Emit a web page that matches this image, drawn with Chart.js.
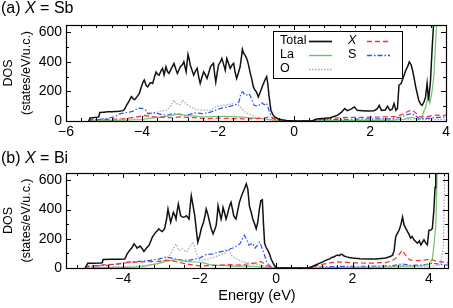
<!DOCTYPE html>
<html><head><meta charset="utf-8">
<script src="https://cdn.jsdelivr.net/npm/chart.js@4"></script>
<style>
html,body{margin:0;padding:0;background:#fff;}
#wrap{position:relative;width:453px;height:308px;overflow:hidden;font-family:"Liberation Sans",Arial,sans-serif;}
canvas{position:absolute;left:0;}
.ttl{position:absolute;left:1px;font-size:16px;line-height:18px;color:#000;white-space:nowrap;z-index:2;}
</style></head><body>
<div id="wrap">
<canvas id="ca" width="453" height="150" style="top:0"></canvas>
<canvas id="cb" width="453" height="158" style="top:150px"></canvas>
<div class="ttl" style="top:-1px">(a) <i>X</i> = Sb</div>
<div class="ttl" style="top:149px">(b) <i>X</i> = Bi</div>
</div>
<script>
// ---------- data: [energy (eV), DOS (states/eV/u.c.)] ----------
const seriesNames = ['Total', 'X', 'La', 'S', 'O'];
const xTicksA = [-6, -4, -2, 0, 2, 4];
const xTicksB = [-4, -2, 0, 2, 4];
const yTicks = [0, 200, 400, 600];

// (a) X = Sb
const aTotal = [[-5.40,0],[-5.37,20],[-5.30,22],[-5.20,25],[-5.14,28],[-5.11,58],[-5.00,60],[-4.90,62],[-4.80,62],[-4.70,64],[-4.60,66],[-4.50,70],[-4.46,80],[-4.40,110],[-4.33,140],[-4.28,165],[-4.23,150],[-4.19,145],[-4.13,165],[-4.07,186],[-4.02,230],[-3.97,265],[-3.94,278],[-3.89,240],[-3.85,231],[-3.78,260],[-3.72,254],[-3.67,300],[-3.63,332],[-3.59,315],[-3.55,310],[-3.50,340],[-3.46,356],[-3.42,312],[-3.37,367],[-3.33,335],[-3.29,322],[-3.22,360],[-3.16,390],[-3.11,350],[-3.07,322],[-3.03,345],[-2.99,367],[-2.94,380],[-2.90,401],[-2.84,333],[-2.79,451],[-2.76,420],[-2.73,378],[-2.68,340],[-2.64,310],[-2.60,335],[-2.55,356],[-2.51,300],[-2.47,254],[-2.42,300],[-2.38,333],[-2.33,310],[-2.29,288],[-2.24,330],[-2.20,367],[-2.16,380],[-2.12,390],[-2.09,320],[-2.06,264],[-2.02,330],[-1.99,378],[-1.94,400],[-1.90,424],[-1.85,380],[-1.81,344],[-1.77,424],[-1.73,395],[-1.68,356],[-1.63,380],[-1.59,390],[-1.55,330],[-1.51,288],[-1.46,330],[-1.42,367],[-1.39,420],[-1.36,485],[-1.33,460],[-1.29,446],[-1.26,430],[-1.23,412],[-1.19,370],[-1.16,333],[-1.11,280],[-1.07,231],[-1.03,210],[-0.99,197],[-0.94,163],[-0.90,190],[-0.86,216],[-0.81,250],[-0.77,276],[-0.72,300],[-0.69,250],[-0.66,173],[-0.61,73],[-0.56,45],[-0.51,27],[-0.42,15],[-0.33,8],[-0.20,4],[-0.05,1],[0.00,0],[0.48,0],[0.55,10],[0.65,15],[0.80,18],[0.95,22],[1.05,30],[1.15,40],[1.25,60],[1.33,84],[1.40,70],[1.50,80],[1.59,95],[1.66,72],[1.80,70],[1.95,68],[2.10,70],[2.18,80],[2.24,106],[2.30,72],[2.40,75],[2.46,100],[2.52,72],[2.58,80],[2.63,118],[2.68,72],[2.72,85],[2.76,242],[2.82,255],[2.88,300],[2.94,344],[2.99,370],[3.03,400],[3.08,380],[3.12,340],[3.16,288],[3.20,230],[3.24,186],[3.28,140],[3.33,115],[3.37,106],[3.42,130],[3.46,163],[3.50,254],[3.54,140],[3.59,276],[3.63,480],[3.68,700],[3.75,900],[4.00,900]];
const aX = [[-5.40,0],[-5.37,8],[-5.10,10],[-4.80,12],[-4.50,15],[-4.30,22],[-4.10,30],[-3.95,38],[-3.80,30],[-3.60,27],[-3.40,24],[-3.20,22],[-3.00,28],[-2.80,25],[-2.60,22],[-2.40,18],[-2.20,16],[-2.00,20],[-1.80,18],[-1.60,16],[-1.40,15],[-1.20,14],[-1.00,16],[-0.80,20],[-0.65,28],[-0.55,18],[-0.40,8],[-0.20,3],[0.00,0],[0.48,0],[0.60,8],[0.90,15],[1.20,22],[1.50,25],[1.80,24],[2.10,26],[2.40,28],[2.70,30],[2.85,45],[3.00,65],[3.10,75],[3.20,55],[3.30,30],[3.45,28],[3.60,35],[3.80,40],[4.00,38]];
const aLa = [[-5.40,0],[-5.00,3],[-4.50,5],[-4.00,10],[-3.80,18],[-3.60,25],[-3.40,30],[-3.20,40],[-3.00,48],[-2.90,40],[-2.70,35],[-2.50,30],[-2.30,28],[-2.10,30],[-1.90,32],[-1.70,30],[-1.50,28],[-1.30,25],[-1.10,20],[-0.90,16],[-0.70,12],[-0.50,6],[-0.30,2],[0.00,0],[0.50,0],[1.00,2],[2.00,4],[2.60,6],[2.90,12],[3.00,20],[3.10,25],[3.20,15],[3.30,10],[3.37,30],[3.42,70],[3.47,100],[3.52,160],[3.57,120],[3.63,200],[3.68,310],[3.72,520],[3.76,700],[3.80,900],[4.00,900]];
const aS = [[-5.40,0],[-5.37,8],[-5.10,12],[-4.90,18],[-4.70,30],[-4.60,48],[-4.45,55],[-4.30,62],[-4.20,70],[-4.10,88],[-4.00,85],[-3.90,73],[-3.85,50],[-3.70,57],[-3.50,45],[-3.35,38],[-3.20,50],[-3.00,45],[-2.90,38],[-2.80,42],[-2.60,55],[-2.40,50],[-2.20,60],[-2.00,80],[-1.90,88],[-1.75,95],[-1.60,106],[-1.50,115],[-1.45,129],[-1.40,185],[-1.35,197],[-1.30,180],[-1.25,174],[-1.20,186],[-1.15,170],[-1.05,106],[-0.95,100],[-0.85,124],[-0.78,110],[-0.72,120],[-0.66,73],[-0.60,30],[-0.50,10],[-0.30,3],[0.00,0],[0.50,0],[0.60,5],[1.00,10],[1.50,12],[2.00,14],[2.50,15],[2.80,25],[3.00,45],[3.10,50],[3.20,35],[3.30,15],[3.50,18],[3.80,25],[4.00,28]];
const aO = [[-5.40,0],[-5.00,5],[-4.50,10],[-4.20,18],[-4.00,28],[-3.90,40],[-3.75,45],[-3.60,60],[-3.45,70],[-3.35,73],[-3.25,100],[-3.16,141],[-3.10,118],[-3.00,110],[-2.93,141],[-2.85,120],[-2.78,106],[-2.60,80],[-2.47,73],[-2.20,73],[-2.03,100],[-1.81,106],[-1.63,118],[-1.46,106],[-1.29,60],[-1.03,27],[-0.77,16],[-0.60,5],[-0.20,2],[0.00,0],[0.50,0],[1.00,3],[2.00,5],[3.00,12],[3.20,15],[3.50,10],[4.00,12]];

// (b) X = Bi
const bTotal = [[-5.00,0],[-4.93,32],[-4.80,33],[-4.60,35],[-4.55,36],[-4.53,59],[-4.30,60],[-4.10,60],[-3.96,62],[-3.90,97],[-3.82,125],[-3.77,140],[-3.72,165],[-3.67,150],[-3.64,136],[-3.56,150],[-3.50,130],[-3.46,113],[-3.40,135],[-3.33,154],[-3.28,185],[-3.24,211],[-3.19,230],[-3.15,245],[-3.11,255],[-3.07,268],[-3.02,255],[-2.98,249],[-2.92,268],[-2.87,330],[-2.83,404],[-2.79,350],[-2.76,313],[-2.72,350],[-2.69,381],[-2.65,360],[-2.62,335],[-2.59,390],[-2.56,437],[-2.53,400],[-2.50,358],[-2.46,350],[-2.42,347],[-2.38,352],[-2.35,358],[-2.31,345],[-2.28,335],[-2.25,420],[-2.22,494],[-2.19,450],[-2.16,404],[-2.13,360],[-2.11,313],[-2.08,240],[-2.05,177],[-2.00,220],[-1.96,268],[-1.93,290],[-1.90,313],[-1.86,360],[-1.83,404],[-1.79,370],[-1.74,313],[-1.70,270],[-1.65,233],[-1.61,260],[-1.57,290],[-1.54,360],[-1.52,426],[-1.48,380],[-1.44,335],[-1.41,370],[-1.39,415],[-1.35,380],[-1.31,335],[-1.27,370],[-1.24,404],[-1.21,430],[-1.18,449],[-1.14,400],[-1.11,358],[-1.08,345],[-1.05,335],[-1.00,400],[-0.96,449],[-0.91,490],[-0.87,517],[-0.83,540],[-0.78,576],[-0.74,540],[-0.70,426],[-0.65,380],[-0.61,335],[-0.56,300],[-0.52,268],[-0.48,313],[-0.44,400],[-0.40,460],[-0.36,467],[-0.33,300],[-0.30,168],[-0.26,140],[-0.22,123],[-0.18,100],[-0.13,61],[-0.08,35],[-0.04,16],[0.02,2],[0.05,0],[0.83,0],[0.95,10],[1.05,22],[1.13,32],[1.22,42],[1.31,54],[1.40,62],[1.46,72],[1.52,77],[1.57,85],[1.61,88],[1.65,84],[1.70,95],[1.74,90],[1.78,82],[1.85,76],[1.92,72],[2.00,68],[2.20,63],[2.44,61],[2.60,62],[2.75,65],[2.87,68],[2.95,75],[3.00,80],[3.05,88],[3.09,120],[3.13,213],[3.18,240],[3.22,258],[3.27,300],[3.31,349],[3.35,295],[3.40,270],[3.44,249],[3.48,230],[3.52,204],[3.56,215],[3.61,193],[3.66,180],[3.70,170],[3.75,185],[3.79,159],[3.83,175],[3.87,193],[3.92,170],[3.96,159],[4.00,258],[4.05,260],[4.09,270],[4.13,397],[4.16,550],[4.18,700],[4.25,900],[4.50,900]];
const bX = [[-5.00,0],[-4.93,12],[-4.60,18],[-4.53,22],[-4.20,25],[-3.90,36],[-3.60,41],[-3.30,43],[-3.10,45],[-2.85,52],[-2.70,48],[-2.55,40],[-2.40,30],[-2.20,22],[-2.00,14],[-1.80,16],[-1.60,18],[-1.40,20],[-1.25,23],[-1.10,20],[-0.90,22],[-0.70,30],[-0.50,35],[-0.40,45],[-0.32,30],[-0.20,12],[-0.10,4],[0.00,0],[0.85,0],[1.00,10],[1.20,25],[1.40,35],[1.60,42],[1.80,40],[2.00,35],[2.50,33],[2.90,38],[3.10,60],[3.20,85],[3.30,120],[3.40,85],[3.50,55],[3.70,50],[3.90,55],[4.05,60],[4.20,45],[4.40,40],[4.50,35]];
const bLa = [[-5.00,0],[-4.50,2],[-4.00,4],[-3.70,6],[-3.50,10],[-3.30,20],[-3.10,30],[-2.95,40],[-2.85,52],[-2.75,50],[-2.60,59],[-2.50,50],[-2.35,45],[-2.20,42],[-2.05,41],[-1.90,35],[-1.75,23],[-1.60,20],[-1.40,18],[-1.20,15],[-1.00,11],[-0.80,14],[-0.60,12],[-0.40,8],[-0.20,3],[0.00,0],[0.85,0],[1.50,3],[2.50,5],[3.00,8],[3.30,15],[3.60,12],[3.90,20],[4.00,25],[4.09,60],[4.13,150],[4.18,290],[4.21,590],[4.25,900],[4.50,900]];
const bS = [[-5.00,0],[-4.93,12],[-4.60,15],[-4.40,20],[-4.10,30],[-3.90,41],[-3.60,45],[-3.30,52],[-3.10,59],[-2.87,75],[-2.70,65],[-2.50,55],[-2.30,52],[-2.15,60],[-2.00,68],[-1.85,90],[-1.65,97],[-1.50,109],[-1.30,120],[-1.10,140],[-0.95,165],[-0.83,224],[-0.78,200],[-0.71,156],[-0.62,170],[-0.55,136],[-0.43,177],[-0.35,125],[-0.25,45],[-0.15,10],[0.00,0],[0.85,0],[1.00,5],[1.50,10],[2.00,12],[2.50,12],[3.00,15],[3.30,28],[3.50,18],[3.80,20],[4.10,32],[4.30,25],[4.50,20]];
const bO = [[-5.00,0],[-4.50,5],[-4.00,10],[-3.60,14],[-3.30,22],[-3.10,30],[-2.87,63],[-2.75,100],[-2.62,165],[-2.55,120],[-2.45,131],[-2.35,109],[-2.30,130],[-2.17,177],[-2.10,109],[-2.00,52],[-1.80,60],[-1.60,75],[-1.50,86],[-1.35,100],[-1.25,126],[-1.15,80],[-1.05,63],[-0.85,41],[-0.60,30],[-0.35,18],[-0.15,5],[0.00,0],[0.85,0],[1.50,3],[2.50,4],[3.30,8],[4.00,10],[4.30,20],[4.38,150],[4.42,700],[4.50,900]];

// ---------- styles ----------
const FONT = '"Liberation Sans", Arial, Helvetica, sans-serif';
const styles = {
  Total: {color: '#111111', width: 1.5, dash: []},
  X:     {color: '#ff2a2a', width: 1.2, dash: [5, 3]},
  La:    {color: '#6fc46f', width: 1.2, dash: []},
  S:     {color: '#2f4fff', width: 1.2, dash: [5, 2, 1.5, 2]},
  O:     {color: '#aaaaaa', width: 1.2, dash: [1.5, 1.5]}
};

function ds(name, pts) {
  const s = styles[name];
  return {
    label: name,
    data: pts.map(p => ({x: p[0], y: p[1]})),
    borderColor: s.color, borderWidth: s.width, borderDash: s.dash,
    pointRadius: 0, tension: 0, fill: false
  };
}

const frameTicks = {
  id: 'frameTicks',
  afterDatasetsDraw(chart) {
    const {ctx, chartArea: a, scales: {x, y}} = chart;
    ctx.save();
    ctx.strokeStyle = '#000';
    ctx.lineWidth = 1;
    ctx.setLineDash([]);
    ctx.beginPath();
    const k0 = Math.ceil(x.min / 0.4 - 1e-6), k1 = Math.floor(x.max / 0.4 + 1e-6);
    for (let k = k0; k <= k1; k++) {
      const px = Math.round(x.getPixelForValue(k * 0.4)) + 0.5;
      const len = (k % 5 === 0) ? 5 : 3;
      ctx.moveTo(px, a.bottom); ctx.lineTo(px, a.bottom - len);
      ctx.moveTo(px, a.top); ctx.lineTo(px, a.top + len);
    }
    for (let k = 1; k * 100 < y.max; k++) {
      const py = Math.round(y.getPixelForValue(k * 100)) + 0.5;
      const len = (k % 2 === 0) ? 5 : 3;
      ctx.moveTo(a.left, py); ctx.lineTo(a.left + len, py);
      ctx.moveTo(a.right, py); ctx.lineTo(a.right - len, py);
    }
    ctx.stroke();
    ctx.lineWidth = 1.2;
    ctx.strokeRect(Math.round(a.left) + 0.5, Math.round(a.top) + 0.5, Math.round(a.right - a.left), Math.round(a.bottom - a.top));
    ctx.restore();
  }
};

const legendBox = {
  id: 'legendBox',
  afterDraw(chart) {
    const {ctx} = chart;
    ctx.save();
    ctx.fillStyle = '#fff';
    ctx.fillRect(273.5, 31.5, 129, 47);
    ctx.strokeStyle = '#000'; ctx.lineWidth = 1; ctx.setLineDash([]);
    ctx.strokeRect(273.5, 31.5, 129, 47);
    const items = [
      {name: 'Total', tx: 280, lx: 309, y: 41, italic: false},
      {name: 'La', tx: 280, lx: 309, y: 55, italic: false},
      {name: 'O', tx: 280, lx: 309, y: 69, italic: false},
      {name: 'X', tx: 348, lx: 367, y: 41, italic: true},
      {name: 'S', tx: 348, lx: 367, y: 55, italic: false}
    ];
    ctx.textBaseline = 'middle';
    ctx.textAlign = 'left';
    for (const it of items) {
      const s = styles[it.name];
      ctx.fillStyle = '#000';
      ctx.font = (it.italic ? 'italic ' : '') + '12.5px ' + FONT;
      ctx.fillText(it.name, it.tx, it.y);
      ctx.save();
      ctx.strokeStyle = s.color;
      ctx.lineWidth = s.width + 0.2;
      ctx.setLineDash(s.dash);
      ctx.beginPath(); ctx.moveTo(it.lx, it.y + 0.5); ctx.lineTo(it.lx + 23, it.y + 0.5); ctx.stroke();
      ctx.restore();
    }
    ctx.restore();
  }
};

const minus = v => String(v).replace('-', '\u2212');

function makeChart(id, sets, xmin, xmax, xticks, topPad, xh, withXTitle, withLegend) {
  return new Chart(document.getElementById(id), {
    type: 'line',
    data: {datasets: sets},
    options: {
      responsive: false, animation: false, devicePixelRatio: 1,
      layout: {padding: {left: 0, right: 5, top: topPad, bottom: 0}},
      plugins: {legend: {display: false}, tooltip: {enabled: false}, title: {display: false}},
      scales: {
        x: {
          type: 'linear', min: xmin, max: xmax,
          grid: {display: false, drawTicks: false}, border: {display: false},
          afterBuildTicks: s => { s.ticks = xticks.map(v => ({value: v})); },
          afterFit: s => { s.height = xh; },
          ticks: {font: {family: FONT, size: 14}, color: '#000', padding: 3, maxRotation: 0, autoSkip: false, callback: v => minus(v)},
          title: {display: withXTitle, text: 'Energy (eV)', font: {family: FONT, size: 14.5}, color: '#000', padding: {top: 0, bottom: 3}}
        },
        y: {
          min: 0, max: 650,
          grid: {display: false, drawTicks: false}, border: {display: false},
          afterBuildTicks: s => { s.ticks = yTicks.map(v => ({value: v})); },
          afterFit: s => { s.width = 66; },
          ticks: {font: {family: FONT, size: 14}, color: '#000', padding: 4, callback: v => String(v)},
          title: {display: true, text: ['DOS', '(states/eV/u.c.)'], font: {family: FONT, size: 12.5, lineHeight: 1.4}, color: '#000', padding: {top: 0, bottom: 0}}
        }
      }
    },
    plugins: withLegend ? [frameTicks, legendBox] : [frameTicks]
  });
}

makeChart('ca', [ds('Total', aTotal), ds('X', aX), ds('La', aLa), ds('S', aS), ds('O', aO)], -6, 4, xTicksA, 25, 29, false, true);
makeChart('cb', [ds('Total', bTotal), ds('X', bX), ds('La', bLa), ds('S', bS), ds('O', bO)], -5.5, 4.5, xTicksB, 23, 40, true, false);
</script>
</body></html>
